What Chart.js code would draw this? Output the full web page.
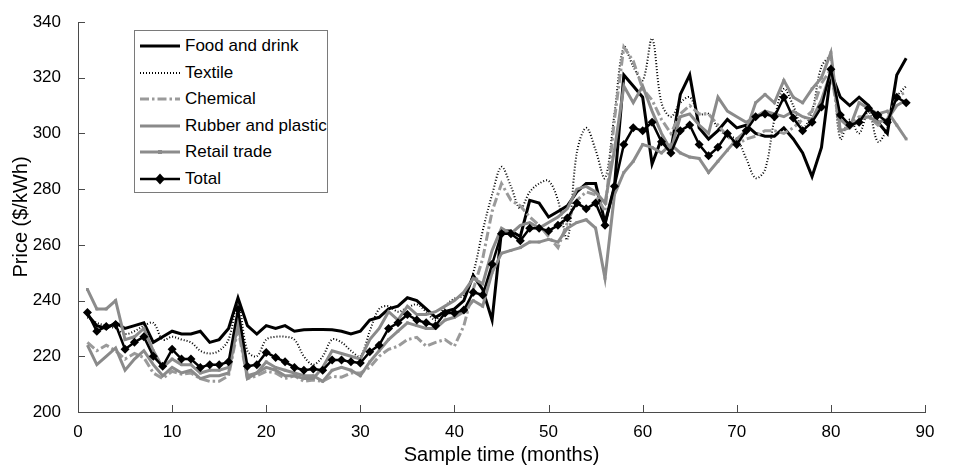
<!DOCTYPE html>
<html><head><meta charset="utf-8">
<script src="https://cdn.jsdelivr.net/npm/chart.js@4/dist/chart.umd.min.js"></script>
<style>
html,body{margin:0;padding:0;background:#fff;}
#wrap{position:relative;width:953px;height:466px;}
#legend{position:absolute;left:134px;top:30px;width:194px;height:163px;border:1px solid #7a7a7a;background:#fff;box-sizing:border-box;font-family:"Liberation Sans",Arial,sans-serif;font-size:17px;color:#000;}
.row{position:absolute;left:0;height:26px;display:flex;align-items:center;white-space:nowrap;}
.row svg{margin-left:5px;margin-right:5px;flex:none;}
</style></head>
<body><div id="wrap"><canvas id="c" width="953" height="466"></canvas><div id="legend"></div></div>
<script>
const months = Array.from({length:88},(_,i)=>i+1);
const seriesNames = ["Food and drink","Textile","Chemical","Rubber and plastic","Retail trade","Total"];
const xTicks = [0,10,20,30,40,50,60,70,80,90];
const yTicks = [200,220,240,260,280,300,320,340];

const foodDrink = [235,231,230,232,230,231,232,225,227,229,228,228,229,225,226,230,241,231,228,231,230,231,229,229.5,229.6,229.6,229.5,229,228,229,233,234,237,238,241,240,237,234,236,237,240,249,244,233,265,265,263,276,275,270,272,274,279,282,282,268,281,321,317,313,289,298,294,314,321,302,298,301,305,302,303,300,299,299,302,298,293,284.5,295,322,313,310,313,310,304,300,321,327];
const textile = [234,232,231,230,228,229,231,232,226,227,226,225,222,221,222,226,239,222,220,226,227,227,226,220,217,220,226,225,222,220,229,237,238,236,237.5,238.6,236,233,238,240.7,242,250,265,278,288,281,273,279,282,283,276,262,293,302,294,284,307,331,324,319,334,311,306,311,313,307,307,302,299,298,291,284,287,305,316,310,302,308,324,327,298,305,300,308,297,302,313,317];
const chemical = [225,222,224,222,219,221,219.5,214,212,214.6,213.6,214,212,211,211,213,230,212,213,214.6,214,212,213,211,211.5,211,212.8,212.5,214,214,216,220,222.5,223.6,226,226.8,223.6,225,226,223.6,231,244,255,272,282,276,274,270,267,263,259,268,276,279,278,272,305,331,326,316,312,305,300,307,310,307,307,303,299,296,298,299,301,301,300,302,305,308,318,323,300,303,306,306,303,305,313,315];
const rubberPlastic = [224,217,220,223,215,219,222,217,213,216,214,215,212,213,213,214,232,212,214,216,215,213,213,212,212,216,222,221,220,219,226,230,236,233,238,235,235,236,238,240,243,248,246,258,266,264,267,268,266,268,270,273,280,281,279,275,294,317,311,317,308,300,294,306,307,303,300,313,308,306,304,306,308,307,306,308,306,305,312,322,305,302,305,306,304,305,310,312];
const retailTrade = [244,237,237,240,226,227,230,222,216,219,217,217,214,215,215,216,234,213,214,218,216,215,214,213,213,211,215,216,215,213,218,222,226,229,232,231,230,230,233,234,236,240,238,250,257,258,259,261,261,262,261,266,268,269,266,248,278,286,290,296,295,293,296,293,291.5,291,286,290,294,298,301,311,314,311,319,313,311,316,320,329,301,302,311,309,307,308,303,298];
const total = [235.7,229,230.7,231.4,222.5,225,227,220,216.4,222.5,219,219,216,217,217,218,236.8,216.4,217,221.4,219.6,218,216,215,215.4,215,218.7,218.7,218,217.6,221.6,224,230,232,235,233,232,231,235.5,235.5,236.6,243,242,253,264,264,261.5,266,266,265,267,269.6,275,273,275,267,281,296,302,301,304,297,293,301,303,296,292,295,300,296,301,306,307,306,313,305.5,301,304,309.5,323,306.6,303,304,309,306.6,304,313,311];

const pts = arr => arr.map((v,i)=>({x:months[i], y:v}));
const FONT = '"Liberation Sans", Arial, sans-serif';

const styles = [
  {color:'#000000', width:3, dash:[], point:0, pstyle:'circle', tension:0},
  {color:'#000000', width:2, dash:[1,2], point:0, pstyle:'circle', tension:0.35},
  {color:'#9a9a9a', width:3, dash:[9,3,2.5,3], point:0, pstyle:'circle', tension:0},
  {color:'#8a8a8a', width:3, dash:[], point:0, pstyle:'circle', tension:0},
  {color:'#8c8c8c', width:3, dash:[], point:2, pstyle:'rect', tension:0},
  {color:'#000000', width:2.5, dash:[], point:4.5, pstyle:'rectRot', tension:0}
];
const dataArrays = [foodDrink, textile, chemical, rubberPlastic, retailTrade, total];

const datasets = dataArrays.map((arr,i)=>({
  label: seriesNames[i],
  data: pts(arr),
  borderColor: styles[i].color,
  backgroundColor: styles[i].color,
  borderWidth: styles[i].width,
  borderDash: styles[i].dash,
  pointRadius: styles[i].point,
  pointStyle: styles[i].pstyle,
  pointBorderWidth: 0,
  tension: styles[i].tension,
  order: 6 - i
}));

const innerTicks = {
  id:'innerTicks',
  afterDraw(chart){
    const {ctx, chartArea:a, scales:{x,y}} = chart;
    ctx.save();
    ctx.strokeStyle = '#4a4a4a';
    ctx.lineWidth = 1;
    ctx.beginPath();
    xTicks.forEach(v=>{ const px = Math.round(x.getPixelForValue(v))+0.5; ctx.moveTo(px, a.bottom); ctx.lineTo(px, a.bottom-7); });
    yTicks.forEach(v=>{ const py = Math.round(y.getPixelForValue(v))+0.5; ctx.moveTo(a.left, py); ctx.lineTo(a.left+7, py); });
    ctx.stroke();
    ctx.restore();
  }
};

new Chart(document.getElementById('c'), {
  type:'line',
  data:{datasets},
  options:{
    responsive:false, animation:false,
    layout:{padding:{top:22,right:28,left:0,bottom:0}},
    plugins:{legend:{display:false}, tooltip:{enabled:false}},
    scales:{
      x:{type:'linear', min:0, max:90,
        afterBuildTicks: s => { s.ticks = xTicks.map(v=>({value:v})); },
        afterFit: s => { s.height = 54; },
        grid:{display:false}, border:{display:true, color:'#4a4a4a', width:1},
        ticks:{color:'#000', font:{family:FONT, size:17}, padding:2, maxRotation:0},
        title:{display:true, text:'Sample time (months)', color:'#000', font:{family:FONT, size:20, lineHeight:1.1}, padding:{top:0,bottom:0}}
      },
      y:{type:'linear', min:200, max:340,
        afterBuildTicks: s => { s.ticks = yTicks.map(v=>({value:v})); },
        afterFit: s => { s.width = 78; },
        grid:{display:false}, border:{display:true, color:'#4a4a4a', width:1},
        ticks:{color:'#000', font:{family:FONT, size:17}, padding:9},
        title:{display:true, text:'Price ($/kWh)', color:'#000', font:{family:FONT, size:20, lineHeight:1.1}, padding:{top:10,bottom:0}}
      }
    }
  },
  plugins:[innerTicks]
});

// HTML legend built from the dataset styles
const leg = document.getElementById('legend');
seriesNames.forEach((name,i)=>{
  const s = styles[i];
  const row = document.createElement('div');
  row.className='row';
  row.style.top = (2 + i*26.6) + 'px';
  const dash = s.dash.length ? `stroke-dasharray="${s.dash.join(',')}"` : '';
  let marker = '';
  if (s.pstyle==='rectRot') marker = `<polygon points="20,1.5 25,7 20,12.5 15,7" fill="#000"/>`;
  if (s.pstyle==='rect') marker = `<rect x="18" y="5" width="4" height="4" fill="${s.color}"/>`;
  row.innerHTML = `<svg width="40" height="14"><line x1="0" y1="7" x2="40" y2="7" stroke="${s.color}" stroke-width="${s.width}" ${dash}/>${marker}</svg><span>${name}</span>`;
  leg.appendChild(row);
});
</script></body></html>
